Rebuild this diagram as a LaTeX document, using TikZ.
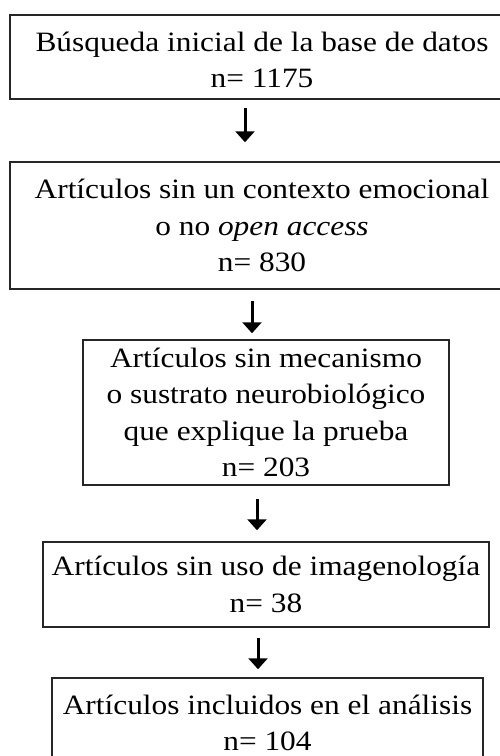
\documentclass[tikz,border=0pt]{standalone}
\usepackage{fontspec}
\setmainfont{Liberation Serif}[FakeStretch=1.12]
\usetikzlibrary{arrows.meta}

\tikzset{
  box/.style={draw=black!85, line width=1.5pt, rectangle, align=center, inner sep=0pt,
    font=\fontsize{28}{36.5}\selectfont},
  flecha/.style={line width=3pt, -{Triangle[length=11pt,width=19pt]}}
}

\begin{document}
\begin{tikzpicture}[x=1pt, y=-1pt]
			%%%%% START %%%%%
			
			\useasboundingbox (0, 0) rectangle (500, 756);
			\clip (0, 0) rectangle (500, 756);
			
			\node[box, minimum width=504pt, minimum height=84pt] (busqueda) at (262, 57) {\\[-11pt]B\'usqueda inicial de la base de datos\\n= 1175};
			
			\node[box, minimum width=504pt, minimum height=127pt] (contexto) at (262, 225.5) {Art\'iculos sin un contexto emocional\\o no \textit{open access}\\n= 830};
			
			\node[box, minimum width=366pt, minimum height=145pt] (mecanismo) at (266, 412.5) {Art\'iculos sin mecanismo\\o sustrato neurobiol\'ogico\\que explique la prueba\\n= 203};
			
			\node[box, minimum width=446pt, minimum height=85pt] (imagen) at (266, 584.5) {Art\'iculos sin uso de imagenolog\'ia\\n= 38};
			
			\node[box, minimum width=431pt, minimum height=90pt] (incluidos) at (267.5, 723) {Art\'iculos incluidos en el an\'alisis\\n= 104};
			
			\draw[flecha, shorten <=8pt, shorten >=19pt] ([xshift=-17pt]busqueda.south) -- ([xshift=-17pt]busqueda.south |- contexto.north);
			\draw[flecha, shorten <=11pt, shorten >=6pt] ([xshift=-10pt]contexto.south) -- ([xshift=-10pt]contexto.south |- mecanismo.north);
			\draw[flecha, shorten <=13pt, shorten >=11pt] ([xshift=-9pt]mecanismo.south) -- ([xshift=-9pt]mecanismo.south |- imagen.north);
			\draw[flecha, shorten <=10pt, shorten >=8pt] ([xshift=-8pt]imagen.south) -- ([xshift=-8pt]imagen.south |- incluidos.north);
			
			%%%%% END %%%%%
\end{tikzpicture}
\end{document}
